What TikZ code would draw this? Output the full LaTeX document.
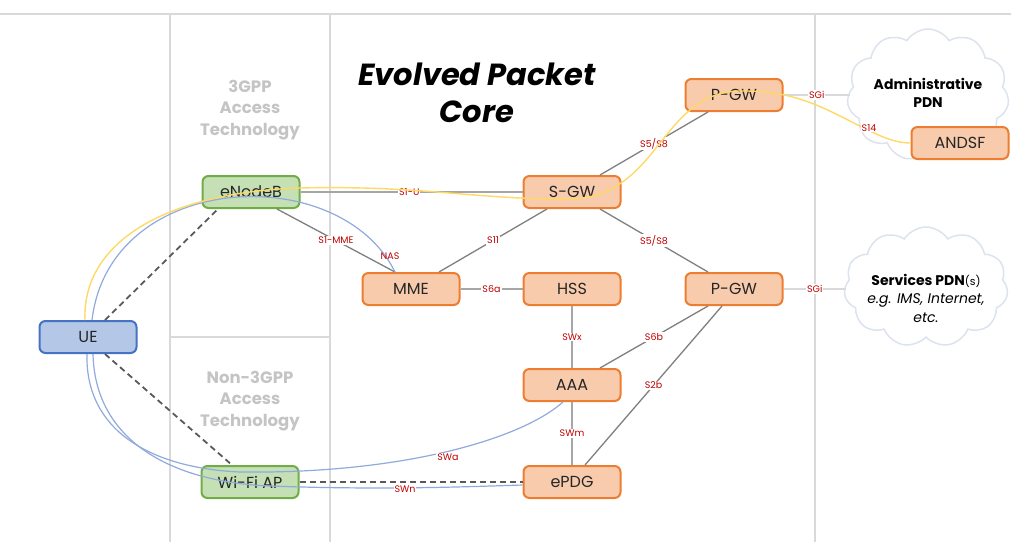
\documentclass[tikz,border=0pt]{standalone}
\usepackage{fontspec}
\setmainfont{Poppins}
\usetikzlibrary{shapes.symbols}
\definecolor{frame}{HTML}{D9D9D9}
\definecolor{conn}{HTML}{7F7F7F}
\definecolor{connlight}{HTML}{A6A6A6}
\definecolor{dashc}{HTML}{595959}
\definecolor{grnfill}{HTML}{C5E0B4}
\definecolor{grnline}{HTML}{70AD47}
\definecolor{bluefill}{HTML}{B4C7E7}
\definecolor{blueline}{HTML}{4472C4}
\definecolor{orfill}{HTML}{F8CBAD}
\definecolor{orline}{HTML}{ED7D31}
\definecolor{sigblue}{HTML}{8FAADC}
\definecolor{sigyel}{HTML}{FFD966}
\definecolor{lblred}{HTML}{C00000}
\definecolor{headgray}{HTML}{C4C4C4}
\definecolor{cloudline}{HTML}{DCE3EE}
\tikzset{
  box/.style={rectangle, rounded corners=6pt, minimum width=97pt, minimum height=32pt, line width=2pt, font=\fontsize{16}{18}\selectfont, text=black!85, inner sep=0pt},
  grnbox/.style={box, draw=grnline, fill=grnfill},
  bluebox/.style={box, draw=blueline, fill=bluefill},
  orbox/.style={box, draw=orline, fill=orfill},
  lbl/.style={font=\fontsize{9.5}{11}\selectfont, text=lblred, fill=white, inner sep=1pt},
  lblnf/.style={font=\fontsize{9.5}{11}\selectfont, text=lblred, inner sep=1pt},
  link/.style={draw=conn, line width=1.3pt},
  linklight/.style={draw=connlight, line width=1.8pt},
  dashlink/.style={draw=dashc, line width=1.8pt, dash pattern=on 6pt off 4pt},
  bsig/.style={draw=sigblue, line width=1.2pt},
  ysig/.style={draw=sigyel, line width=1.4pt},
  framel/.style={draw=frame, line width=1.8pt},
  heading/.style={font=\bfseries\fontsize{16.5}{21.5}\selectfont, text=headgray, align=center},
  pdn/.style={cloud, cloud puffs=11, cloud puff arc=115, aspect=1.25, draw=cloudline, line width=1.5pt, fill=white},
}
\begin{document}
\begin{tikzpicture}[x=1pt,y=-1pt]
\useasboundingbox (0,0) rectangle (1011,542);
% frame
\draw[framel] (0,14) -- (1011,14);
\draw[framel] (170,14) -- (170,542);
\draw[framel] (330,14) -- (330,542);
\draw[framel] (815,14) -- (815,542);
\draw[framel] (170,337) -- (330,337);
% title and headings
\node[font=\bfseries\itshape\fontsize{30.5}{37}\selectfont, align=center] (title) at (477,93) {Evolved Packet\\Core};
\node[heading] (h3gpp) at (250,110) {3GPP\\Access\\Technology};
\node[heading] (hnon) at (250,401) {Non-3GPP\\Access\\Technology};
% clouds
\node[pdn, minimum width=162pt, minimum height=132pt] (cloud1) at (928,95) {};
\node[pdn, minimum width=164pt, minimum height=120pt] (cloud2) at (926,287) {};
\node[font=\bfseries\fontsize{14}{18}\selectfont, align=center] (t1) at (928,93) {Administrative\\PDN};
\node[font=\fontsize{14}{18.5}\selectfont, align=center] (t2) at (926,298) {\textbf{Services PDN}{\fontsize{11}{12}\selectfont(s)}\\\textit{e.g. IMS, Internet,}\\\textit{etc.}};
% nodes
\node[grnbox] (enb) at (251,192) {eNodeB};
\node[bluebox] (ue) at (88,337) {UE};
\node[grnbox] (wifi) at (250,482) {Wi-Fi AP};
\node[orbox] (mme) at (411,289) {MME};
\node[orbox] (sgw) at (572,192) {S-GW};
\node[orbox] (hss) at (572,289) {HSS};
\node[orbox] (pgw1) at (734,95) {P-GW};
\node[orbox] (pgw2) at (734,289) {P-GW};
\node[orbox] (aaa) at (572,385) {AAA};
\node[orbox] (epdg) at (572,482) {ePDG};
\node[orbox] (andsf) at (960,143) {ANDSF};
\coordinate (sgi1) at (850,95);
\coordinate (sgi2) at (846,289);
% connectors
\draw[linklight] (enb.east) -- node[lbl, pos=0.49]{S1-U} (sgw.west);
\draw[link] ([xshift=26pt]enb.south) -- node[lbl]{S1-MME} ([xshift=-16pt]mme.north);
\draw[link] ([xshift=28pt]mme.north) -- node[lbl]{S11} ([xshift=-25pt]sgw.south);
\draw[linklight] (mme.east) -- node[lbl]{S6a} (hss.west);
\draw[link] ([xshift=28pt]sgw.north) -- node[lbl]{S5/S8} ([xshift=-26pt]pgw1.south);
\draw[link] ([xshift=28pt]sgw.south) -- node[lbl]{S5/S8} ([xshift=-26pt]pgw2.north);
\draw[linklight] (hss.south) -- node[lbl]{SWx} (aaa.north);
\draw[link] ([xshift=28pt]aaa.north) -- node[lbl]{S6b} ([xshift=-26pt]pgw2.south);
\draw[link] ([xshift=13pt]epdg.north) -- node[lbl]{S2b} ([xshift=-12pt]pgw2.south);
\draw[linklight] (aaa.south) -- node[lbl]{SWm} (epdg.north);
\draw[draw=frame, line width=1.8pt] (pgw1.east) -- node[lbl]{SGi} (sgi1);
\draw[draw=frame, line width=1.8pt] (pgw2.east) -- node[lbl]{SGi} (sgi2);
\draw[dashlink] (wifi.east) -- (epdg.west);
\draw[dashlink] ([xshift=17pt]ue.north) -- ([xshift=-33pt]enb.south);
\draw[dashlink] ([xshift=17pt]ue.south) -- ([xshift=-18pt]wifi.north);
% blue signalling curves
\draw[bsig] ([xshift=4pt]ue.north) .. controls (110,170) and (340,160) .. ([xshift=-16pt]mme.north);
\node[lblnf] (nas) at (390,256) {NAS};
\draw[bsig] ([xshift=-1pt]ue.south) .. controls (85,430) and (150,468) .. (240,472) .. controls (400,474) and (520,440) .. ([xshift=-9pt]aaa.south);
\node[lbl] (swa) at (448,457) {SWa};
\draw[bsig] ([xshift=5pt]ue.south) .. controls (95,440) and (170,482) .. (270,486) .. controls (380,490) and (460,487) .. ([yshift=-3pt]epdg.west);
\node[lbl] (swn) at (405,489) {SWn};
% yellow user-plane curve
\draw[ysig] ([xshift=-3pt]ue.north) .. controls (82,240) and (170,192) .. (300,188) .. controls (420,185) and (480,200) .. (570,199) .. controls (660,197) and (660,92) .. (740,91) .. controls (800,90) and (830,112) .. (870,131) .. controls (888,140) and (900,143) .. (andsf.west);
\node[lbl] (s14) at (869,128) {S14};
\end{tikzpicture}
\end{document}
